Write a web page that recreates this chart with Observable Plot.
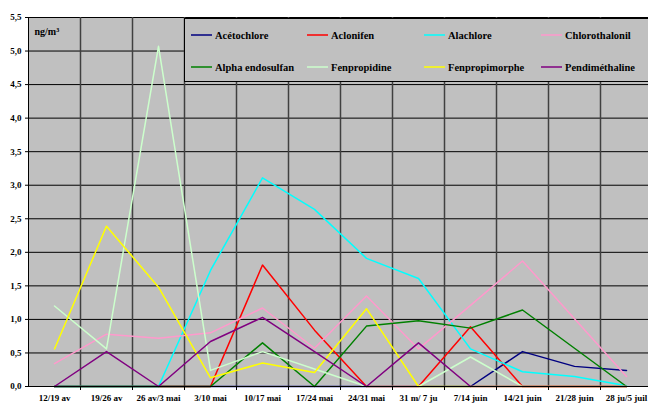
<!DOCTYPE html>
<html>
<head>
<meta charset="utf-8">
<script src="https://cdn.jsdelivr.net/npm/d3@7"></script>
<script src="https://cdn.jsdelivr.net/npm/@observablehq/plot@0.6"></script>
<style>
  body { margin: 0; background: #fff; }
  #wrap { position: relative; width: 648px; height: 403px; overflow: hidden; }
  #chart svg text { font-family: "Liberation Serif", serif !important; font-weight: bold; fill: #000; }
  #legend { position: absolute; left: 184px; top: 18px; width: 480px; height: 64px;
            background: #c0c0c0; border: 1.5px solid #000; box-sizing: border-box;
            font: bold 10.5px "Liberation Serif", serif; color: #000; }
  .item { position: absolute; height: 14px; display: flex; align-items: center; white-space: nowrap; }
  .sw { display: block; margin-right: 3px; }
</style>
</head>
<body>
<div id="wrap"><div id="chart"></div><div id="legend"></div></div>
<script>
// Categories (weeks)
const weeks = ["12/19 av", "19/26 av", "26 av/3 mai", "3/10 mai", "10/17 mai", "17/24 mai",
               "24/31 mai", "31 m/ 7 ju", "7/14 juin", "14/21 juin", "21/28 juin", "28 ju/5 juil"];

// Series values (ng/m3)
const acetochlore     = [0, 0, 0, 0, 0, 0, 0, 0, 0, 0.52, 0.30, 0.24];
const aclonifen       = [0, 0, 0, 0, 1.81, 0.84, 0, 0, 0.89, 0, 0, 0];
const alachlore       = [0, 0, 0, 1.73, 3.11, 2.64, 1.91, 1.61, 0.56, 0.22, 0.15, 0.01];
const chlorothalonil  = [0.34, 0.78, 0.72, 0.80, 1.17, 0.57, 1.35, 0.56, 1.21, 1.87, 1.01, 0.15];
const alphaEndosulfan = [0, 0, 0, 0, 0.65, 0, 0.90, 0.98, 0.87, 1.14, 0.57, 0];
const fenpropidine    = [1.20, 0.56, 5.07, 0.24, 0.52, 0.26, 0, 0, 0.44, 0, 0, 0];
const fenpropimorphe  = [0.56, 2.39, 1.48, 0.13, 0.35, 0.21, 1.16, 0, 0, 0, 0, 0];
const pendimethaline  = [0, 0.52, 0, 0.67, 1.03, 0.52, 0, 0.65, 0, 0, 0, 0];

// Series names and colours
const seriesNames  = ["Acétochlore", "Aclonifen", "Alachlore", "Chlorothalonil",
                      "Alpha endosulfan", "Fenpropidine", "Fenpropimorphe", "Pendiméthaline"];
const seriesColors = ["#000080", "#ff0000", "#00ffff", "#ff99cc",
                      "#008000", "#ccffcc", "#ffff00", "#800080"];
const seriesValues = [acetochlore, aclonifen, alachlore, chlorothalonil,
                      alphaEndosulfan, fenpropidine, fenpropimorphe, pendimethaline];

// Y ticks
const yTicks = d3.range(0, 5.51, 0.5);
const unitLabel = "ng/m³";

const idx = d3.range(weeks.length);
const bounds = d3.range(weeks.length - 1).map(i => i + 0.5);

const lineMarks = seriesValues.map((vals, s) =>
  Plot.line(vals.map((v, i) => ({x: i, y: v})), {
    x: "x", y: "y", stroke: seriesColors[s], strokeWidth: 1.5
  })
);

const chart = Plot.plot({
  width: 648,
  height: 403,
  marginLeft: 28,
  marginRight: -4,
  marginTop: 17,
  marginBottom: 17,
  style: {fontFamily: "'Liberation Serif', serif", fontSize: "9px", fontWeight: "bold", background: "#fff", color: "#000"},
  x: {type: "linear", domain: [-0.5, weeks.length - 0.5]},
  y: {domain: [0, 5.5]},
  marks: [
    Plot.frame({fill: "#c0c0c0", stroke: null}),
    Plot.ruleY(yTicks.slice(1), {stroke: "#000", strokeWidth: 1}),
    Plot.ruleX(bounds, {stroke: "#404040", strokeWidth: 1.5}),
    ...lineMarks,
    Plot.ruleX([-0.5], {stroke: "#000", strokeWidth: 1}),
    Plot.ruleY([0], {stroke: "#000", strokeWidth: 1}),
    Plot.axisY({ticks: yTicks, tickFormat: d => d.toFixed(1).replace(".", ","),
                tickSize: 3, tickPadding: 4, label: null, fontSize: 9}),
    Plot.axisX({ticks: idx, tickFormat: i => weeks[i], tickSize: 0, tickPadding: 8.5, label: null, fontSize: 9}),
    Plot.axisX({ticks: bounds, tickFormat: () => "", tickSize: 4, label: null}),
    Plot.text([unitLabel], {frameAnchor: "top-left", dx: 6, dy: 14, lineAnchor: "middle",
                            textAnchor: "start", fontSize: 10})
  ]
});
document.getElementById("chart").appendChild(chart);

// Legend (HTML overlay)
const legend = document.getElementById("legend");
const colLeft = [6, 122, 239, 356];
const rowTop = [9, 41];
const svgNS = "http://www.w3.org/2000/svg";
seriesNames.forEach((name, k) => {
  const row = Math.floor(k / 4), col = k % 4;
  const item = document.createElement("div");
  item.className = "item";
  item.style.left = colLeft[col] + "px";
  item.style.top = rowTop[row] + "px";
  const sw = document.createElementNS(svgNS, "svg");
  sw.setAttribute("width", "21");
  sw.setAttribute("height", "6");
  sw.setAttribute("class", "sw");
  const ln = document.createElementNS(svgNS, "line");
  ln.setAttribute("x1", "0"); ln.setAttribute("x2", "21");
  ln.setAttribute("y1", "3"); ln.setAttribute("y2", "3");
  ln.setAttribute("stroke", seriesColors[k]);
  ln.setAttribute("stroke-width", "1.5");
  sw.appendChild(ln);
  const label = document.createElement("span");
  label.textContent = name;
  item.appendChild(sw);
  item.appendChild(label);
  legend.appendChild(item);
});
</script>
</body>
</html>
